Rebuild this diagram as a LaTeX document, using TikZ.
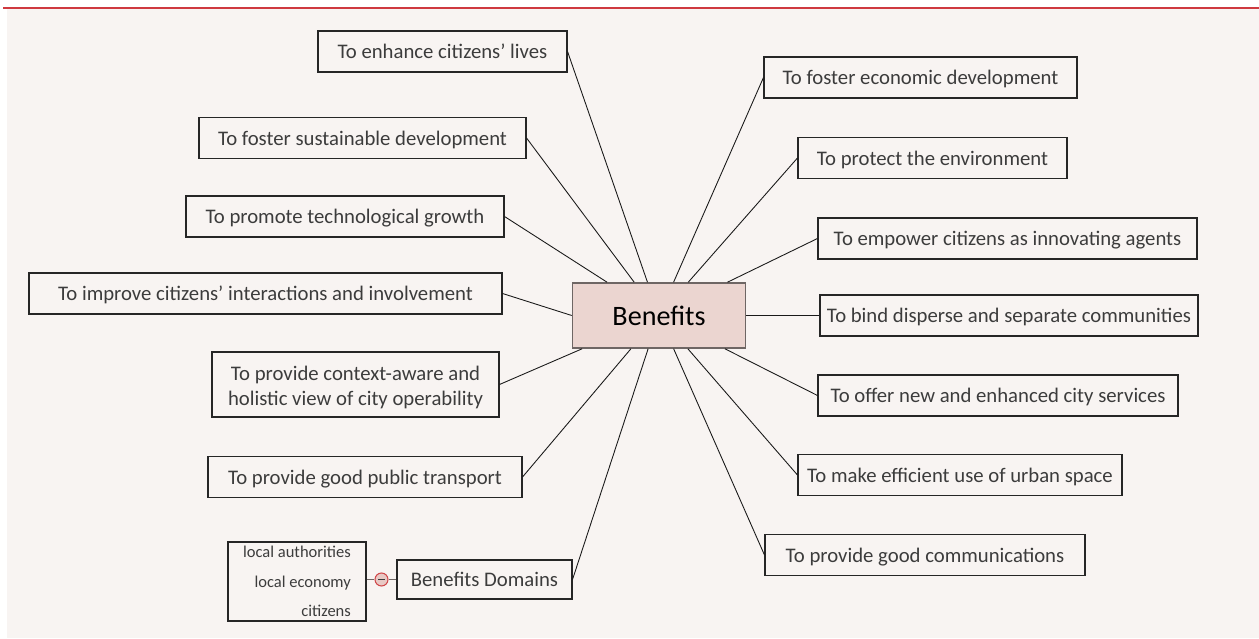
\documentclass[tikz,border=0pt]{standalone}
\usepackage{fontspec}
\setmainfont{Carlito}
\definecolor{panelbg}{HTML}{F8F4F2}
\definecolor{topred}{HTML}{CF3A40}
\definecolor{benfill}{HTML}{EBD5D0}
\definecolor{benline}{HTML}{6E6664}
\definecolor{txtgray}{HTML}{3C3C3C}
\definecolor{minusfill}{HTML}{E8C9C5}
\definecolor{minusline}{HTML}{D04548}
\tikzset{
    leaf/.style={draw=black!85, line width=0.6pt, fill=panelbg, text=txtgray,
        font=\fontsize{11.8}{14.5}\selectfont, minimum height=41*0.02cm, inner sep=2pt, align=center},
    oneline/.style={leaf, text height=2ex, text depth=0.3ex},
    hub/.style={draw=benline, line width=0.9pt, fill=benfill, text=black,
        font=\fontsize{16}{19}\selectfont, minimum width=173*0.02cm, minimum height=65*0.02cm},
    spoke/.style={draw=black!90, line width=0.5pt},
    minusdot/.style={circle, draw=minusline, fill=minusfill, line width=0.6pt, minimum size=13*0.02cm, inner sep=0pt,
        path picture={\draw[txtgray, line width=0.7pt]
            ([xshift=-3.5*0.02cm]path picture bounding box.center) -- ([xshift=3.5*0.02cm]path picture bounding box.center);}},
}
\begin{document}
\begin{tikzpicture}[x=0.02cm, y=-0.02cm]
    % page and panel
    \useasboundingbox (0,0) rectangle (1259,639);
    \fill[white] (0,0) rectangle (1259,639);
    \fill[panelbg] (7,8) rectangle (1259,638);
    \draw[topred, line width=0.9pt] (3,8) -- (1259,8);

    % centre
    \node[hub] (ben) at (659,315.5) {Benefits};

    % left side
    \node[oneline, minimum width=249*0.02cm] (lives) at (442.5,51.5) {To enhance citizens’ lives};
    \node[oneline, minimum width=327*0.02cm] (sust) at (362.5,138) {To foster sustainable development};
    \node[oneline, minimum width=318*0.02cm] (tech) at (345,216.5) {To promote technological growth};
    \node[oneline, minimum width=473*0.02cm] (inter) at (265.5,293.5) {To improve citizens’ interactions and involvement};
    \node[leaf, minimum width=287*0.02cm, minimum height=65*0.02cm, font=\fontsize{11.8}{14.2}\selectfont,
        text depth=0pt] (context) at (355.5,384.5)
        {\rule{0pt}{1.75ex}To provide context-aware and\\holistic view of city operability};
    \node[oneline, minimum width=314*0.02cm] (transp) at (365,477) {To provide good public transport};
    \node[oneline, minimum width=175*0.02cm, minimum height=39*0.02cm] (domains) at (484.5,579.5) {Benefits Domains};

    % right side
    \node[oneline, minimum width=313*0.02cm] (econ) at (920.5,77.5) {To foster economic development};
    \node[oneline, minimum width=269*0.02cm] (envir) at (932.5,158) {To protect the environment};
    \node[oneline, minimum width=379*0.02cm] (agents) at (1007.5,238.5) {To empower citizens as innovating agents};
    \node[oneline, minimum width=378*0.02cm] (bind) at (1009,315.5) {To bind disperse and separate communities};
    \node[oneline, minimum width=360*0.02cm] (serv) at (998,395.5) {To offer new and enhanced city services};
    \node[oneline, minimum width=324*0.02cm] (space) at (960,475) {To make efficient use of urban space};
    \node[oneline, minimum width=320*0.02cm] (comm) at (925,555) {To provide good communications};

    % domains list
    \node[leaf, minimum width=138*0.02cm, minimum height=79*0.02cm, align=right,
        font=\fontsize{9.4}{16.8}\selectfont, text depth=0pt] (dlist) at (297,581.5)
        {local authorities\\local economy\\citizens};
    \node[minusdot] (fold) at (381.5,579.5) {};
    \draw[spoke, draw=benline] (dlist.east |- fold) -- (fold);
    \draw[spoke, draw=benline] (fold) -- (domains.west);

    % spokes
    \foreach \n in {lives, sust, tech, context, transp, domains}
        \draw[spoke] (\n.east) -- (ben);
    \foreach \n in {econ, envir, agents, serv, space, comm}
        \draw[spoke] (\n.west) -- (ben);
    \draw[spoke] (inter.east) -- (ben.west);
    \draw[spoke] (bind.west) -- (ben.east);
\end{tikzpicture}
\end{document}
